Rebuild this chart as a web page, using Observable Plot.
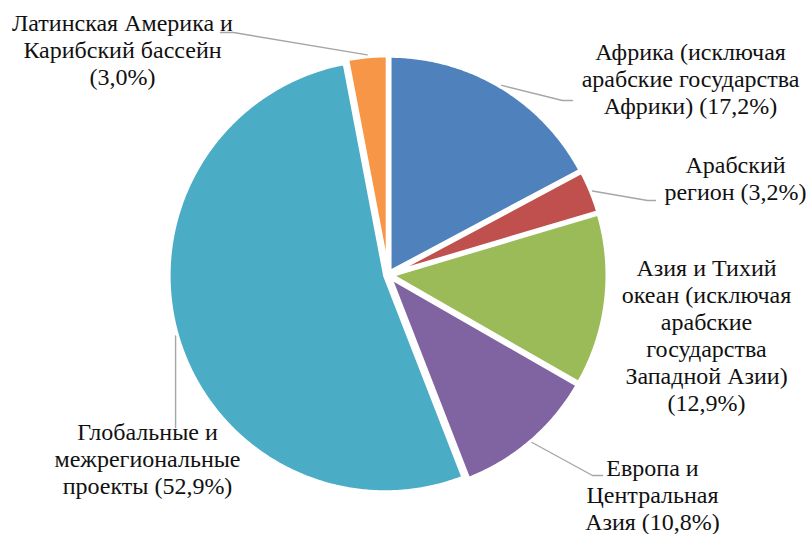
<!DOCTYPE html>
<html><head><meta charset="utf-8">
<script src="https://cdn.jsdelivr.net/npm/d3@7"></script>
<script src="https://cdn.jsdelivr.net/npm/@observablehq/plot@0.6"></script>
<style>
body{margin:0;background:#fff}
#chart svg{display:block}
</style>
</head><body><div id="chart"></div>
<script>
// ---- data ----
const categories = [
  "Африка (исключая арабские государства Африки)",
  "Арабский регион",
  "Азия и Тихий океан (исключая арабские государства Западной Азии)",
  "Европа и Центральная Азия",
  "Глобальные и межрегиональные проекты",
  "Латинская Америка и Карибский бассейн"
];
const shares = [17.2, 3.2, 12.9, 10.8, 52.9, 3.0];
const colors = ["#4F81BD", "#C0504D", "#9BBB59", "#8064A2", "#4BACC6", "#F79646"];
const labelLines = [
  ["Африка (исключая", "арабские государства", "Африки) (17,2%)"],
  ["Арабский", "регион (3,2%)"],
  ["Азия и Тихий", "океан (исключая", "арабские", "государства", "Западной Азии)", "(12,9%)"],
  ["Европа и", "Центральная", "Азия (10,8%)"],
  ["Глобальные и", "межрегиональные", "проекты (52,9%)"],
  ["Латинская Америка и", "Карибский бассейн", "(3,0%)"]
];

// ---- layout ----
const W = 807, H = 534;
const cx = 387.5, cy = 274.4, R = 216.5, explode = 3;
const fontSize = 24, lineGap = 27;
const serif = "Liberation Serif";
const labelLayout = [
  {x: 690, y: 59, path: [[562, 100], [572, 100]]},
  {x: 735, y: 172, path: [[647, 200], [655, 200]]},
  {x: 706, y: 275, path: null},
  {x: 652, y: 475, path: [[592, 475], [602, 475]]},
  {x: 147, y: 439, path: "down", downTo: 427},
  {x: 122, y: 30, path: [[233, 32], [220, 32]]}
];

const arcs = d3.pie().sort(null).value(d => d)(shares);

const slicePts = [];
arcs.forEach((a, i) => {
  const mid = (a.startAngle + a.endAngle) / 2;
  const tx = cx + explode * Math.sin(mid), ty = cy - explode * Math.cos(mid);
  slicePts.push({slice: i, x: tx, y: ty, color: colors[i]});
  const n = Math.max(4, Math.ceil((a.endAngle - a.startAngle) / (Math.PI / 360)));
  for (let k = 0; k <= n; k++) {
    const ang = a.startAngle + (a.endAngle - a.startAngle) * k / n;
    slicePts.push({slice: i, x: tx + R * Math.sin(ang), y: ty - R * Math.cos(ang), color: colors[i]});
  }
});

const leaderPts = [];
arcs.forEach((a, i) => {
  const L = labelLayout[i];
  if (!L.path) return;
  const mid = (a.startAngle + a.endAngle) / 2;
  const r0 = R + explode + 1.5;
  const sx = cx + r0 * Math.sin(mid), sy = cy - r0 * Math.cos(mid);
  leaderPts.push({id: i, x: sx, y: sy});
  if (L.path === "down") leaderPts.push({id: i, x: sx, y: L.downTo});
  else L.path.forEach(p => leaderPts.push({id: i, x: p[0], y: p[1]}));
});

const textRows = [];
labelLines.forEach((lines, i) => {
  const L = labelLayout[i];
  lines.forEach((t, j) => textRows.push({text: t, x: L.x, y: L.y + j * lineGap}));
});

const chart = Plot.plot({
  width: W, height: H,
  margin: 0,
  x: {type: "identity", axis: null},
  y: {type: "identity", axis: null},
  color: {type: "identity"},
  marks: [
    Plot.line(slicePts, {x: "x", y: "y", z: "slice", fill: "color", stroke: "#fff", strokeWidth: 4, strokeLinejoin: "round", curve: "linear-closed"}),
    Plot.line(leaderPts, {x: "x", y: "y", z: "id", stroke: "#A6A6A6", strokeWidth: 1.4}),
    Plot.text(textRows, {x: "x", y: "y", text: "text", textAnchor: "middle", lineAnchor: "bottom", fontSize: fontSize, fontFamily: serif, fill: "#111"})
  ]
});
chart.setAttribute("font-family", serif);
const st = document.createElementNS("http://www.w3.org/2000/svg", "style");
st.textContent = "text, tspan { font-family: 'Liberation Serif', serif !important; }";
chart.insertBefore(st, chart.firstChild);
document.getElementById("chart").appendChild(chart);
</script>
</body></html>
